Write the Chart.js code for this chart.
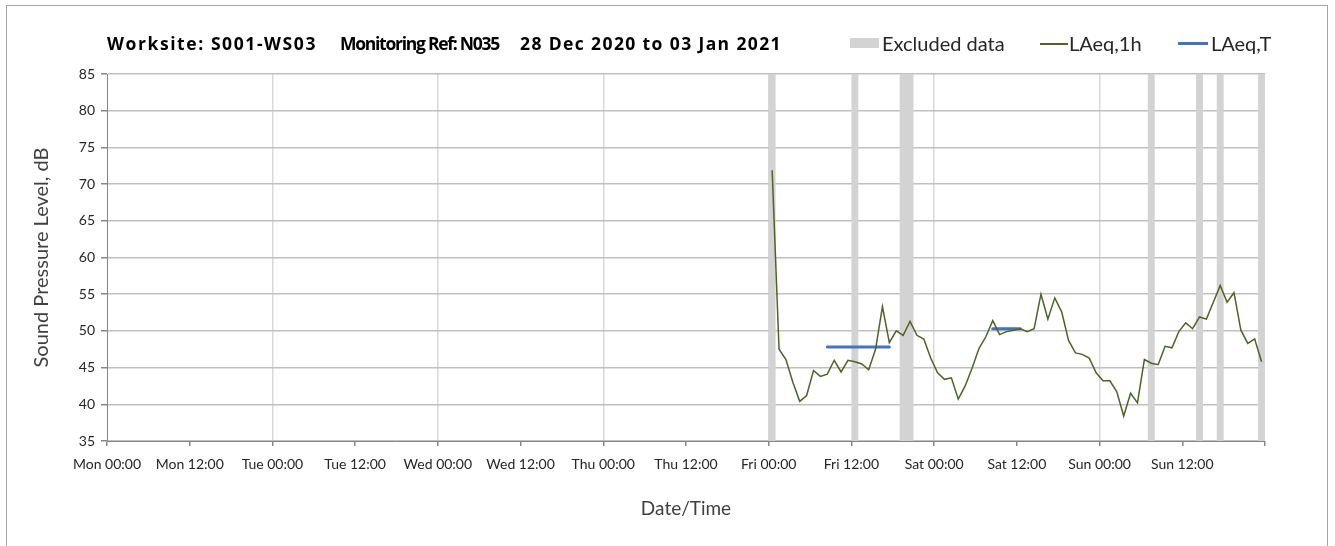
<!DOCTYPE html>
<html>
<head>
<meta charset="utf-8">
<script src="https://cdn.jsdelivr.net/npm/chart.js@4"></script>
<style>
  body { margin: 0; background: #fff; overflow: hidden; font-family: Lato, "Open Sans", sans-serif; }
  #wrap { position: relative; width: 1335px; height: 546px; }
  #frame { position: absolute; left: 6px; top: 5px; width: 1322px; height: 600px; border: 1px solid #a6a6a6; box-sizing: border-box; }
  .t { position: absolute; top: 31px; font-family: "Open Sans", sans-serif; font-weight: bold; font-size: 17.5px; color: #000; white-space: nowrap; }
  .lg { position: absolute; top: 31px; font-size: 20px; color: #262626; white-space: nowrap; }
  .sw { position: absolute; }
  canvas { position: absolute; left: 0; top: 0; }
</style>
</head>
<body>
<div id="wrap">
  <div id="frame"></div>
  <canvas id="chart" width="1335" height="546"></canvas>
  <div class="t" style="left:107px" data-w="210">Worksite: S001-WS03</div>
  <div class="t" style="left:340px" data-w="159">Monitoring Ref: N035</div>
  <div class="t" style="left:520px" data-w="262">28 Dec 2020 to 03 Jan 2021</div>
  <div class="sw" style="left:850px;top:38px;width:29px;height:10px;background:#d3d3d3"></div>
  <div class="lg" style="left:882px">Excluded data</div>
  <div class="sw" style="left:1040px;top:43px;width:28px;height:1.5px;background:#4f6228"></div>
  <div class="lg" style="left:1069px">LAeq,1h</div>
  <div class="sw" style="left:1178px;top:42px;width:30px;height:3px;background:#4472c4"></div>
  <div class="lg" style="left:1211px">LAeq,T</div>
</div>
<script>
// hours counted from Mon 28 Dec 2020 00:00
const tickLabels = ['Mon 00:00', 'Mon 12:00', 'Tue 00:00', 'Tue 12:00', 'Wed 00:00', 'Wed 12:00',
  'Thu 00:00', 'Thu 12:00', 'Fri 00:00', 'Fri 12:00', 'Sat 00:00', 'Sat 12:00', 'Sun 00:00', 'Sun 12:00'];

// hourly LAeq, first value plotted at Fri 00:30
const firstHour = 96.5;
const laeq1h = [71.9, 47.5, 46.1, 43.0, 40.4, 41.2, 44.6, 43.8, 44.1, 46.0, 44.4, 46.0,
  45.8, 45.5, 44.7, 47.5, 53.3, 48.4, 50.0, 49.4, 51.3, 49.4, 48.9, 46.3,
  44.3, 43.4, 43.6, 40.7, 42.5, 44.9, 47.6, 49.2, 51.4, 49.5, 49.9, 50.1,
  50.3, 49.9, 50.3, 55.0, 51.6, 54.5, 52.6, 48.7, 47.0, 46.8, 46.3, 44.3,
  43.2, 43.2, 41.7, 38.4, 41.5, 40.2, 46.1, 45.6, 45.4, 47.9, 47.7, 49.9,
  51.1, 50.3, 51.9, 51.6, 53.9, 56.2, 53.9, 55.2, 50.1, 48.3, 48.9, 45.8];

// LAeq,T periods
const laeqTStart = [104.5, 128.5];
const laeqTEnd = [113.5, 132.5];
const laeqTValue = [47.8, 50.3];

// excluded data periods
const excludedFrom = [96, 108, 115, 151, 158, 161, 167];
const excludedTo = [97, 109, 117, 152, 159, 162, 168];

// stretch the title pieces to the widths they have in the original,
// once the font is really there
document.fonts.load('bold 17.5px "Open Sans"').then(() => {
  document.querySelectorAll('.t').forEach(el => {
    el.style.letterSpacing = '0px';
    const w = el.getBoundingClientRect().width;
    const n = el.textContent.length;
    el.style.letterSpacing = ((+el.dataset.w - w) / n) + 'px';
  });
});

const lineData = laeq1h.map((v, i) => ({ x: firstHour + i, y: v }));
const tData = [];
laeqTValue.forEach((v, i) => {
  tData.push({ x: laeqTStart[i], y: v }, { x: laeqTEnd[i], y: v }, { x: laeqTEnd[i] + 0.5, y: null });
});

const bands = {
  id: 'bands',
  beforeDatasetsDraw(chart) {
    const { ctx, chartArea, scales } = chart;
    ctx.save();
    ctx.fillStyle = '#d3d3d3';
    excludedFrom.forEach((f, i) => {
      const x1 = scales.x.getPixelForValue(f);
      const x2 = scales.x.getPixelForValue(excludedTo[i]);
      ctx.fillRect(x1, chartArea.top, x2 - x1, chartArea.bottom - chartArea.top);
    });
    ctx.restore();
  }
};

const tickFont = { family: 'Lato', size: 14 };

new Chart(document.getElementById('chart'), {
  type: 'line',
  data: {
    datasets: [{
      label: 'LAeq,1h',
      data: lineData,
      borderColor: '#4f6228',
      borderWidth: 1.5,
      pointRadius: 0,
      tension: 0
    }, {
      label: 'LAeq,T',
      data: tData,
      borderColor: '#4472c4',
      borderWidth: 3,
      borderCapStyle: 'round',
      pointRadius: 0,
      spanGaps: false
    }]
  },
  options: {
    responsive: false,
    animation: false,
    layout: { padding: { left: 0, right: 70, top: 74, bottom: 0 } },
    plugins: {
      legend: { display: false },
      title: { display: false },
      tooltip: { enabled: false }
    },
    scales: {
      x: {
        type: 'linear',
        min: 0,
        max: 168,
        afterFit: s => { s.height = 105; },
        ticks: {
          stepSize: 12,
          autoSkip: false,
          maxRotation: 0,
          color: '#262626',
          font: tickFont,
          padding: 10,
          callback: (v, i) => tickLabels[i] || ''
        },
        grid: {
          color: c => (c.tick && c.tick.value % 24 === 0 && c.tick.value > 0 && c.tick.value < 168) ? '#d9d9d9' : 'rgba(0,0,0,0)',
          tickColor: '#868686',
          tickLength: 5,
          lineWidth: 1.5
        },
        border: { color: '#868686' },
        title: {
          display: true,
          text: 'Date/Time',
          color: '#404040',
          font: { family: 'Lato', size: 19 },
          padding: { top: 4, bottom: 26 }
        }
      },
      y: {
        min: 35,
        max: 85,
        afterFit: s => { s.width = 107; },
        ticks: { stepSize: 5, color: '#262626', font: tickFont, padding: 6 },
        grid: { color: '#c0c0c0', tickColor: '#868686', tickLength: 6, lineWidth: 1.5 },
        border: { color: '#868686' },
        title: {
          display: true,
          text: 'Sound Pressure Level, dB',
          color: '#404040',
          font: { family: 'Lato', size: 20 },
          padding: { top: 30, bottom: 4 }
        }
      }
    }
  },
  plugins: [bands]
});
</script>
</body>
</html>
